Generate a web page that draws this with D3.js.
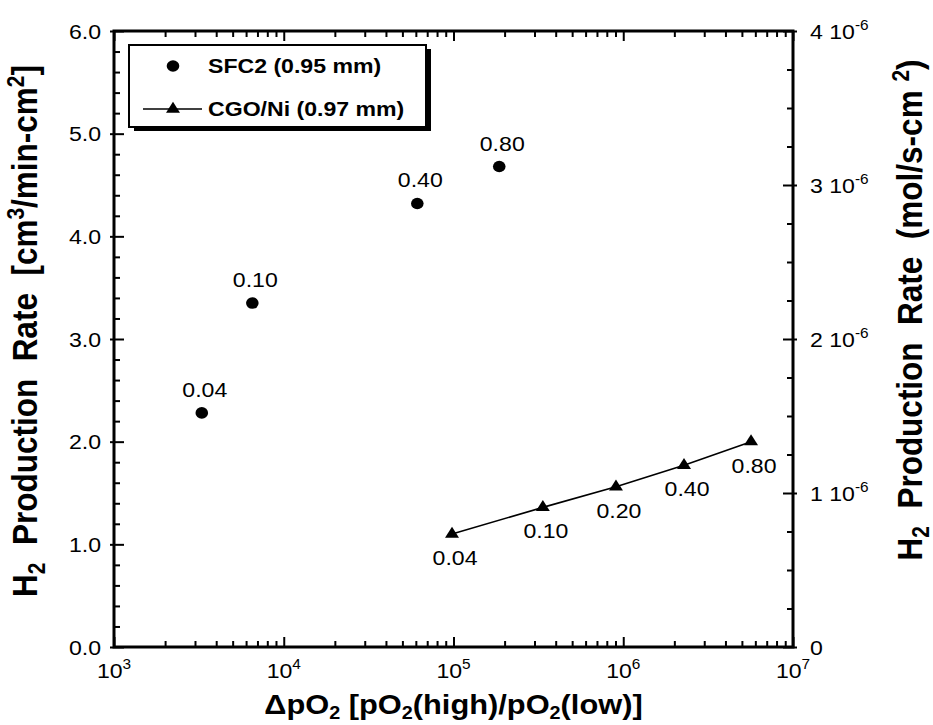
<!DOCTYPE html>
<html>
<head>
<meta charset="utf-8">
<script src="https://cdn.jsdelivr.net/npm/d3@7/dist/d3.min.js"></script>
<style>
  html, body { margin: 0; padding: 0; background: #fff; }
  svg { display: block; }
  text { font-family: "Liberation Sans", Arial, Helvetica, sans-serif; fill: #000; }
</style>
</head>
<body>
<div id="chart"></div>
<script>
// SFC2 membrane (0.95 mm): pO2 gradient vs. H2 production rate
const sfcRatio = [3290, 6530, 61200, 186000];
const sfcRate = [2.28, 3.35, 4.32, 4.68];
const sfcLabels = ["0.04", "0.10", "0.40", "0.80"];

// CGO/Ni membrane (0.97 mm)
const cgoRatio = [98000, 336000, 906000, 2280000, 5660000];
const cgoRate = [1.10, 1.36, 1.56, 1.77, 2.00];
const cgoLabels = ["0.04", "0.10", "0.20", "0.40", "0.80"];

// Axis ticks
const leftTicks = [0, 1, 2, 3, 4, 5, 6];
const leftTickLabels = ["0.0", "1.0", "2.0", "3.0", "4.0", "5.0", "6.0"];
const rightTicks = [0, 1e-6, 2e-6, 3e-6, 4e-6];
const rightTickLabels = ["0", "1 10", "2 10", "3 10", "4 10"];
const rightTickExps = ["", "-6", "-6", "-6", "-6"];
const xTicks = [1e3, 1e4, 1e5, 1e6, 1e7];
const xTickExps = ["3", "4", "5", "6", "7"];

const legendNames = ["SFC2 (0.95 mm)", "CGO/Ni (0.97 mm)"];

const W = 933, H = 725;
const plot = { left: 114, right: 793, top: 31, bottom: 647 };
const SX = 1.1; // horizontal text stretch
const FONT = 21;

const svg = d3.select("#chart").append("svg").attr("width", W).attr("height", H);

const x = d3.scaleLog().domain([1e3, 1e7]).range([plot.left, plot.right]);
const y = d3.scaleLinear().domain([0, 6]).range([plot.bottom, plot.top]);
const y2 = d3.scaleLinear().domain([0, 4e-6]).range([plot.bottom, plot.top]);

// text helper: places a text inside a stretched group
function stext(parent, px, py, opts) {
  const g = parent.append("g")
    .attr("transform", `translate(${px},${py}) scale(${SX},1)` + (opts.rotate ? ` rotate(${opts.rotate})` : ""));
  const t = g.append("text")
    .attr("text-anchor", opts.anchor || "start")
    .style("font-size", (opts.size || FONT) + "px")
    .style("font-weight", opts.weight || "normal");
  if (opts.dy) t.attr("dy", opts.dy);
  return t;
}

// ----- ticks -----
const minorLog = [];
for (let e = 3; e < 7; e++) for (let m = 2; m <= 9; m++) minorLog.push(m * Math.pow(10, e));
const minorLeft = d3.range(0, 6.0001, 0.2).filter(v => Math.abs(v - Math.round(v)) > 1e-6);
const minorRight = d3.range(0, 4.0001e-6, 0.25e-6).filter(v => Math.abs(v / 1e-6 - Math.round(v / 1e-6)) > 1e-6);

function tickGroup(axis, tx, ty) {
  const g = svg.append("g").attr("transform", `translate(${tx},${ty})`).call(axis);
  g.select(".domain").remove();
  g.selectAll("line").attr("stroke", "#000").attr("stroke-width", 2);
  g.selectAll("text").remove();
  return g;
}

// bottom
tickGroup(d3.axisBottom(x).tickValues(xTicks).tickSize(-10).tickFormat(""), 0, plot.bottom);
tickGroup(d3.axisBottom(x).tickValues(minorLog).tickSize(-6).tickFormat(""), 0, plot.bottom);
// top
tickGroup(d3.axisTop(x).tickValues(xTicks).tickSize(-10).tickFormat(""), 0, plot.top);
tickGroup(d3.axisTop(x).tickValues(minorLog).tickSize(-6).tickFormat(""), 0, plot.top);
// left
tickGroup(d3.axisLeft(y).tickValues(leftTicks).tickSize(-10).tickFormat(""), plot.left, 0)
  .selectAll("line").attr("x1", -4);
tickGroup(d3.axisLeft(y).tickValues(minorLeft).tickSize(-6).tickFormat(""), plot.left, 0);
// right
tickGroup(d3.axisRight(y2).tickValues(rightTicks).tickSize(-10).tickFormat(""), plot.right, 0)
  .selectAll("line").attr("x1", 4);
tickGroup(d3.axisRight(y2).tickValues(minorRight).tickSize(-6).tickFormat(""), plot.right, 0);

// frame
svg.append("rect")
  .attr("x", plot.left).attr("y", plot.top)
  .attr("width", plot.right - plot.left).attr("height", plot.bottom - plot.top)
  .attr("fill", "none").attr("stroke", "#000").attr("stroke-width", 3);

// ----- tick labels -----
leftTicks.forEach((v, i) => {
  stext(svg, plot.left - 13, y(v), { anchor: "end", dy: "0.36em" }).text(leftTickLabels[i]);
});
xTicks.forEach((v, i) => {
  const t = stext(svg, x(v), plot.bottom + 31, { anchor: "middle" });
  t.append("tspan").text("10");
  t.append("tspan").attr("dy", -9).style("font-size", "14px").text(xTickExps[i]);
});
rightTicks.forEach((v, i) => {
  const t = stext(svg, plot.right + 17, y2(v), { anchor: "start", dy: "0.36em" });
  t.append("tspan").text(rightTickLabels[i]);
  if (rightTickExps[i]) t.append("tspan").attr("dy", -9).style("font-size", "14px").text(rightTickExps[i]);
});

// ----- axis titles -----
{
  const t = stext(svg, (plot.left + plot.right) / 2, 714, { anchor: "middle", size: 28, weight: "bold" });
  t.append("tspan").text("\u0394pO");
  t.append("tspan").attr("dy", 5).style("font-size", "18px").text("2");
  t.append("tspan").attr("dy", -5).text(" [pO");
  t.append("tspan").attr("dy", 5).style("font-size", "18px").text("2");
  t.append("tspan").attr("dy", -5).text("(high)/pO");
  t.append("tspan").attr("dy", 5).style("font-size", "18px").text("2");
  t.append("tspan").attr("dy", -5).text("(low)]");
}
{
  const t = stext(svg, 37, 331, { anchor: "middle", size: 31.5, weight: "bold", rotate: -90 });
  t.append("tspan").text("H");
  t.append("tspan").attr("dy", 7).style("font-size", "21px").text("2");
  t.append("tspan").attr("dy", -7).text("\u00a0 Production\u00a0 Rate\u00a0 [cm");
  t.append("tspan").attr("dy", -12).style("font-size", "21px").text("3");
  t.append("tspan").attr("dy", 12).text("/min-cm");
  t.append("tspan").attr("dy", -12).style("font-size", "21px").text("2");
  t.append("tspan").attr("dy", 12).text("]");
}
{
  const t = stext(svg, 922, 310, { anchor: "middle", size: 31.5, weight: "bold", rotate: -90 });
  t.append("tspan").text("H");
  t.append("tspan").attr("dy", 6).style("font-size", "21px").text("2");
  t.append("tspan").attr("dy", -6).text("\u00a0 Production\u00a0 Rate\u00a0 (mol/s-cm ");
  t.append("tspan").attr("dy", -12).style("font-size", "21px").text("2");
  t.append("tspan").attr("dy", 12).text(")");
}

// ----- data -----
const sfc = sfcRatio.map((r, i) => ({ r, v: sfcRate[i], label: sfcLabels[i] }));
const cgo = cgoRatio.map((r, i) => ({ r, v: cgoRate[i], label: cgoLabels[i] }));

svg.append("path")
  .datum(cgo)
  .attr("d", d3.line().x(d => x(d.r)).y(d => y(d.v)))
  .attr("fill", "none").attr("stroke", "#000").attr("stroke-width", 1.6);

const tri = d3.symbol(d3.symbolTriangle, 70);

svg.append("g").selectAll("path").data(cgo).join("path")
  .attr("d", tri)
  .attr("transform", d => `translate(${x(d.r)},${y(d.v)}) scale(${SX},1)`)
  .attr("fill", "#000");

svg.append("g").selectAll("ellipse").data(sfc).join("ellipse")
  .attr("cx", d => x(d.r)).attr("cy", d => y(d.v))
  .attr("rx", 6.3).attr("ry", 5.8).attr("fill", "#000");

sfc.forEach(d => {
  stext(svg, x(d.r) + 3, y(d.v) - 16, { anchor: "middle" }).text(d.label);
});
cgo.forEach(d => {
  stext(svg, x(d.r) + 3, y(d.v) + 31, { anchor: "middle" }).text(d.label);
});

// ----- legend -----
const lg = { x: 129, y: 45, w: 297, h: 82 };
svg.append("rect").attr("x", lg.x + 5).attr("y", lg.y + 4).attr("width", lg.w).attr("height", lg.h).attr("fill", "#000");
svg.append("rect").attr("x", lg.x).attr("y", lg.y).attr("width", lg.w).attr("height", lg.h)
  .attr("fill", "#fff").attr("stroke", "#000").attr("stroke-width", 2);

svg.append("ellipse").attr("cx", 173).attr("cy", 66).attr("rx", 6.3).attr("ry", 5.8).attr("fill", "#000");
stext(svg, 208, 73, { weight: "bold" }).text(legendNames[0]);

svg.append("line").attr("x1", 143).attr("x2", 202).attr("y1", 109).attr("y2", 109)
  .attr("stroke", "#000").attr("stroke-width", 1.6);
svg.append("path").attr("d", tri).attr("transform", `translate(173,109) scale(${SX},1)`).attr("fill", "#000");
stext(svg, 208, 116, { weight: "bold" }).text(legendNames[1]);
</script>
</body>
</html>
